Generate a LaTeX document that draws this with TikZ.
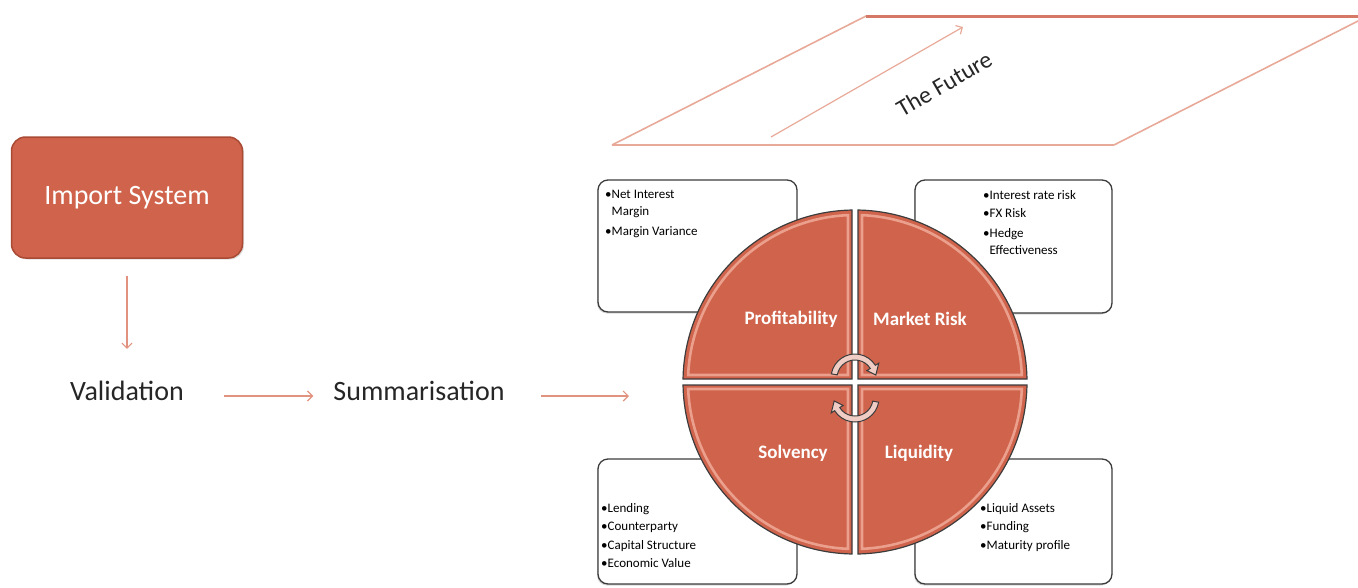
\documentclass[tikz,border=0pt]{standalone}
\usepackage{fontspec}
\setmainfont{Carlito}
\usetikzlibrary{arrows.meta, positioning, shadows}

\definecolor{rust}{HTML}{D0634B}
\definecolor{rustdark}{HTML}{A94A35}
\definecolor{salmon}{HTML}{E2937F}
\definecolor{palesalmon}{HTML}{E8A999}
\definecolor{topsalmon}{HTML}{D67866}
\definecolor{shine}{HTML}{EBA08E}
\definecolor{edgegray}{HTML}{3C3C3C}
\definecolor{swirl}{HTML}{EFCDC5}
\definecolor{textgray}{HTML}{262626}

\begin{document}
\begin{tikzpicture}[x=1pt, y=-1pt]
  \tikzstyle{sysnode} = [rectangle, rounded corners=14pt, minimum width=231pt, minimum height=121pt, align=center, draw=rustdark, line width=1.5pt, fill=rust, text=white, font=\fontsize{28}{32}\selectfont, drop shadow={shadow xshift=1.5pt, shadow yshift=-1.5pt, opacity=.25}]
  \tikzstyle{stage} = [inner sep=2pt, text=textgray, font=\fontsize{28}{32}\selectfont]
  \tikzstyle{infobox} = [rectangle, rounded corners=10pt, draw=edgegray, line width=1.3pt, fill=white, drop shadow={shadow xshift=-1pt, shadow yshift=-1.5pt, opacity=.3}]
  \tikzstyle{bullets} = [inner sep=0pt, align=left, anchor=north west, text=black, font=\fontsize{13}{17}\selectfont]
  \tikzstyle{quarter} = [fill=rust, draw=edgegray, line width=1.2pt]
  \tikzstyle{quartershine} = [draw=shine, line width=2.6pt]
  \tikzstyle{quarterlabel} = [text=white, font=\bfseries\fontsize{19}{22}\selectfont]
  \tikzstyle{swirlarrow} = [fill=swirl, draw=edgegray, line width=1pt]
  \tikzstyle{connector} = [salmon, line width=1.2pt, -{Straight Barb[length=5pt, width=10pt]}]
  \tikzstyle{planeedge} = [palesalmon, line width=1.6pt]

  \useasboundingbox (0,0) rectangle (1358,587);

  % Left side: process chain
  \node (import) at (127,197.5) [sysnode] {Import System};
  \node (valid) at (127,391) [stage] {Validation};
  \node (summ) at (419,391) [stage] {Summarisation};
  \coordinate (wheelin) at (629,396);

  \draw[connector, shorten <=17pt, shorten >=30pt] (import) -- (valid);
  \draw[connector, shorten <=38pt, shorten >=18pt] ([yshift=-5pt]valid.east) -- ([yshift=-5pt]summ.west);
  \draw[connector, shorten <=34pt] ([yshift=-5pt]summ.east) -- (wheelin);

  % The future plane
  \coordinate (planefl) at (612,145);
  \coordinate (planefr) at (1114,145);
  \coordinate (planebl) at (866,16);
  \coordinate (planebr) at (1358,16);
  \coordinate (planeside) at (1358,21);
  \coordinate (futurestart) at (771,137);
  \coordinate (futureend) at (963,27);

  \draw[planeedge, line width=2.4pt] (planefl) -- (planefr);
  \draw[planeedge] (planefl) -- (planebl);
  \draw[planeedge] (planefr) -- (planeside);
  \draw[topsalmon, line width=3pt] (planebl) -- (planebr);
  \draw[connector, palesalmon] (futurestart) -- (futureend);
  \node (future) at (944,84) [rotate=30, text=textgray, font=\fontsize{24}{28}\selectfont] {The Future};

  % Detail boxes behind the wheel
  \node (profbox) at (697.5,246) [infobox, minimum width=199pt, minimum height=132pt] {};
  \node (mktbox) at (1013.5,246.5) [infobox, minimum width=197pt, minimum height=133pt] {};
  \node (solvbox) at (697.5,521.5) [infobox, minimum width=199pt, minimum height=125pt] {};
  \node (liqbox) at (1013.5,521.5) [infobox, minimum width=197pt, minimum height=125pt] {};

  \node (proftext) at (605,190) [bullets] {•Net Interest\\\phantom{•}Margin\\[3pt]•Margin Variance};
  \node (mkttext) at (983,190) [bullets] {•Interest rate risk\\[1pt]•FX Risk\\[3pt]•Hedge\\\phantom{•}Effectiveness};
  \node (solvtext) at (601,503) [bullets] {•Lending\\[1pt]•Counterparty\\[2pt]•Capital Structure\\[1pt]•Economic Value};
  \node (liqtext) at (980,503) [bullets] {•Liquid Assets\\[1pt]•Funding\\[2pt]•Maturity profile};

  % The wheel
  \coordinate (hub) at (855,382);
  \foreach \a/\sx/\sy in {180/-1/-1, 270/1/-1, 0/1/1, 90/-1/1} {
    \draw[quarter, shift={(hub)}] (3*\sx,3*\sy) -- (\a+1:172) arc[start angle=\a+1, end angle=\a+89, radius=172] -- cycle;
    \draw[quartershine, shift={(hub)}] (7*\sx,7*\sy) -- (\a+2.4:167) arc[start angle=\a+2.4, end angle=\a+87.6, radius=167] -- cycle;
  }

  \node (prof) at (791,319) [quarterlabel] {Profitability};
  \node (mkt) at (920,319) [quarterlabel] {Market Risk};
  \node (solv) at (793,453) [quarterlabel] {Solvency};
  \node (liq) at (919,453) [quarterlabel] {Liquidity};

  % Cycle arrows in the middle
  \filldraw[swirlarrow, shift={(855,378)}] (190:24) arc[start angle=190, end angle=328, radius=24] -- (328:28) -- (352:21) -- (328:14) -- (328:18) arc[start angle=328, end angle=190, radius=18] -- cycle;
  \filldraw[swirlarrow, shift={(855,398)}] (10:24) arc[start angle=10, end angle=148, radius=24] -- (148:28) -- (172:21) -- (148:14) -- (148:18) arc[start angle=148, end angle=10, radius=18] -- cycle;
\end{tikzpicture}
\end{document}
